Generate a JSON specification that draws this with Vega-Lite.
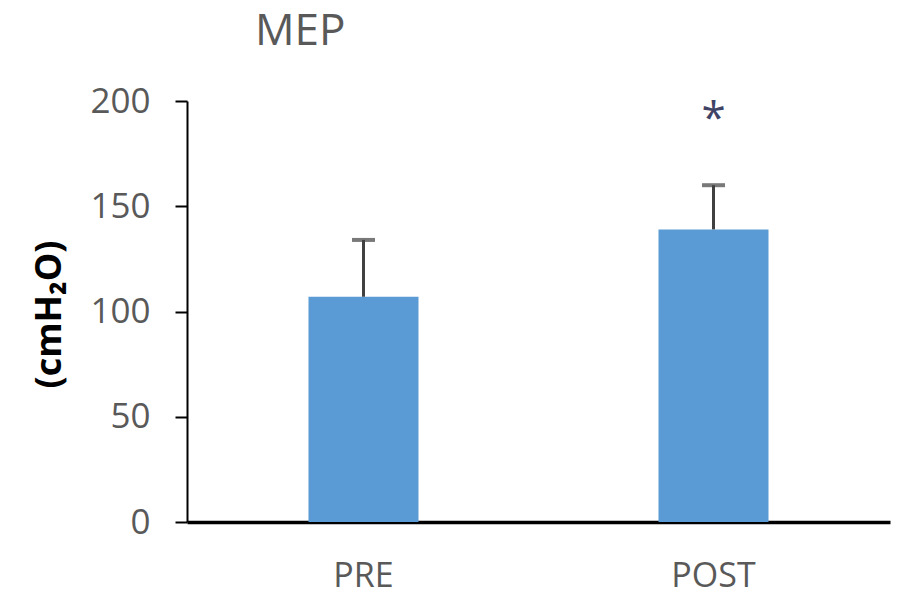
{
  "$schema": "https://vega.github.io/schema/vega-lite/v6.json",
  "width": 703,
  "height": 421,
  "autosize": {"type": "none"},
  "padding": {"left": 187, "top": 101, "right": 12, "bottom": 71},
  "background": "white",
  "config": {"view": {"stroke": null}},
  "title": {
    "text": "MEP",
    "anchor": "start",
    "frame": "group",
    "dx": 68,
    "offset": -5,
    "baseline": "alphabetic",
    "font": "Open Sans",
    "fontSize": 44,
    "fontWeight": "normal",
    "color": "#595959"
  },
  "data": {
    "values": [
      {"phase": "PRE", "mean": 107, "upper": 134},
      {"phase": "POST", "mean": 139, "upper": 160, "sig": "*", "sig_y": 185}
    ]
  },
  "encoding": {
    "x": {
      "field": "phase",
      "type": "nominal",
      "sort": ["PRE", "POST"],
      "scale": {"paddingInner": 0.6857, "paddingOuter": 0.3471},
      "axis": {
        "title": null,
        "labelAngle": 0,
        "ticks": false,
        "domainColor": "#000000",
        "domainWidth": 3.5,
        "labelFont": "Open Sans",
        "labelFontSize": 34,
        "labelColor": "#595959",
        "labelPadding": 37
      }
    }
  },
  "layer": [
    {
      "mark": {"type": "bar", "color": "#5B9BD5"},
      "encoding": {
        "y": {
          "field": "mean",
          "type": "quantitative",
          "title": "(cmH₂O)",
          "scale": {"domain": [0, 200]},
          "axis": {
            "title": "(cmH₂O)",
            "titleFont": "Open Sans",
            "titleFontSize": 36,
            "titleFontWeight": "bold",
            "titleColor": "#000000",
            "titleX": -138,
            "titleY": 213,
            "titleAngle": 270,
            "titleAlign": "center",
            "titleBaseline": "middle",
            "values": [0, 50, 100, 150, 200],
            "grid": false,
            "domainColor": "#000000",
            "domainWidth": 2,
            "tickColor": "#000000",
            "tickWidth": 2,
            "tickSize": 12,
            "labelPadding": 25,
            "labelFont": "Open Sans",
            "labelFontSize": 35,
            "labelColor": "#595959"
          }
        }
      }
    },
    {
      "mark": {"type": "rule", "color": "#404040", "strokeWidth": 3},
      "encoding": {
        "y": {"field": "mean", "type": "quantitative", "title": "(cmH₂O)"},
        "y2": {"field": "upper"}
      }
    },
    {
      "mark": {"type": "tick", "orient": "horizontal", "size": 23, "thickness": 4, "color": "#404040"},
      "encoding": {
        "y": {"field": "upper", "type": "quantitative", "title": "(cmH₂O)"}
      }
    },
    {
      "transform": [{"filter": "isValid(datum.sig)"}],
      "mark": {"type": "text", "font": "Open Sans", "fontSize": 44, "baseline": "alphabetic", "color": "#3F4466"},
      "encoding": {
        "y": {"field": "sig_y", "type": "quantitative", "title": "(cmH₂O)"},
        "text": {"field": "sig"}
      }
    }
  ]
}
